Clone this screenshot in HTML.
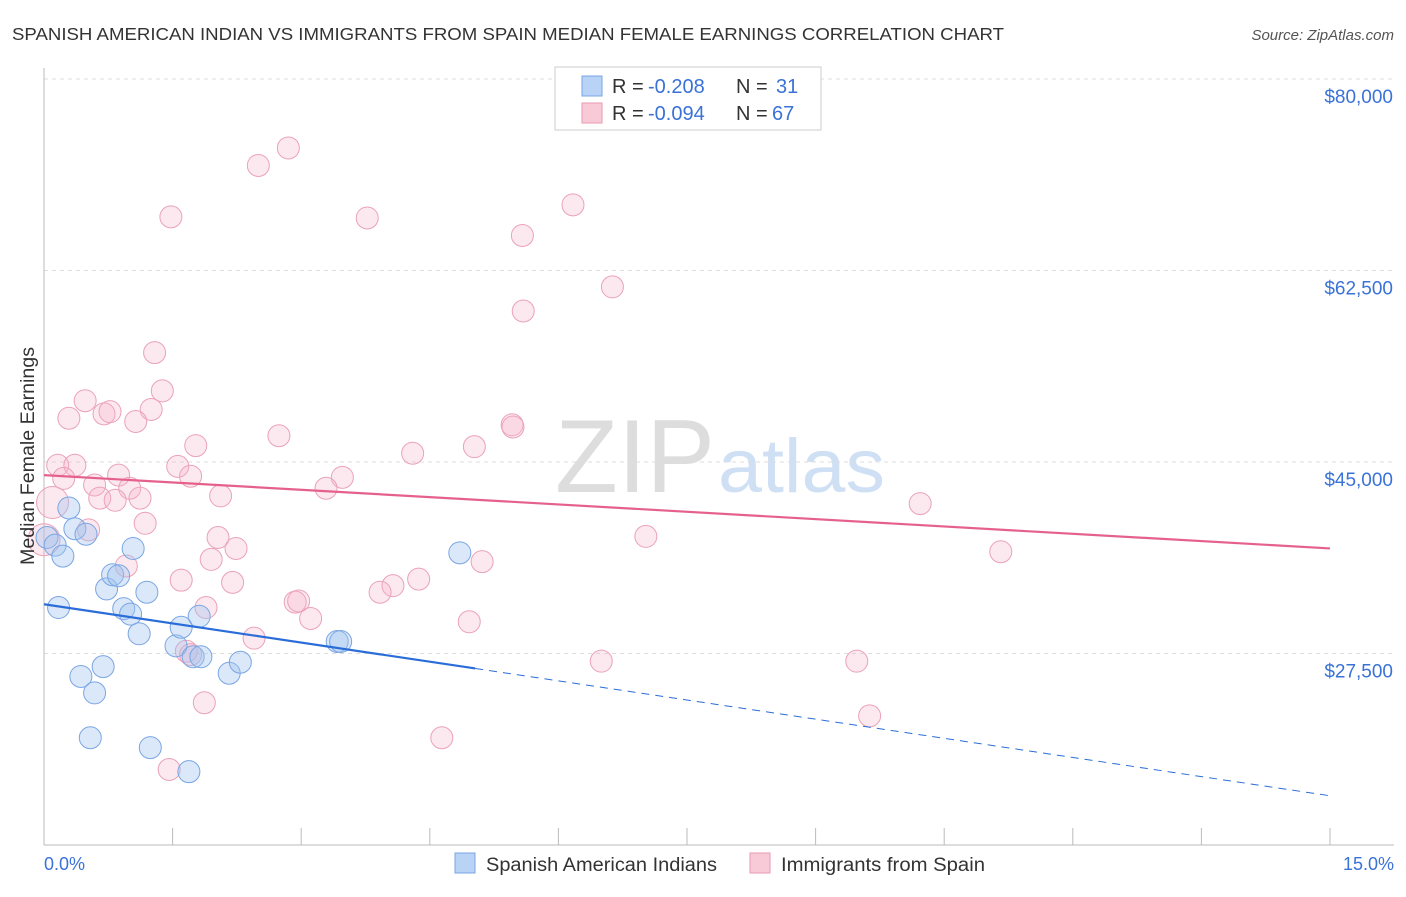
<!DOCTYPE html>
<html><head><meta charset="utf-8"><style>
body{margin:0;background:#fff;font-family:"Liberation Sans",sans-serif;}
svg text{font-family:"Liberation Sans",sans-serif;}
</style></head><body>
<svg id="c" width="1406" height="892">
<text x="12" y="40" font-size="17.5" fill="#333" textLength="992" lengthAdjust="spacingAndGlyphs">SPANISH AMERICAN INDIAN VS IMMIGRANTS FROM SPAIN MEDIAN FEMALE EARNINGS CORRELATION CHART</text>
<text x="1394" y="40" font-size="15" fill="#555" font-style="italic" text-anchor="end">Source: ZipAtlas.com</text>
<text x="555" y="492" font-size="104" fill="#ddd" textLength="160" lengthAdjust="spacingAndGlyphs" font-family="Liberation Serif">ZIP</text>
<text x="718" y="492" font-size="76" fill="#cfe0f5" textLength="167" lengthAdjust="spacingAndGlyphs">atlas</text>
<g id="grid"></g><g id="pts"></g><g id="lines"></g>
<text transform="translate(34,456) rotate(-90)" font-size="19" fill="#333" text-anchor="middle" textLength="218" lengthAdjust="spacingAndGlyphs">Median Female Earnings</text>
<text x="44" y="870" font-size="18" fill="#3a72d8">0.0%</text>
<text x="1394" y="870" font-size="18" fill="#3a72d8" text-anchor="end">15.0%</text>
<g>
<rect x="555" y="67" width="266" height="63" fill="#fff" stroke="#ccc"/>
<rect x="582" y="76" width="20" height="20" fill="#b8d3f5" stroke="#7aa6e3"/>
<rect x="582" y="103" width="20" height="20" fill="#f8c9d7" stroke="#e99ab2"/>
<text x="612" y="93" font-size="20" fill="#333">R =</text><text x="648" y="93" font-size="20" fill="#3a72d8">-0.208</text>
<text x="736" y="93" font-size="20" fill="#333">N =</text><text x="776" y="93" font-size="20" fill="#3a72d8">31</text>
<text x="612" y="120" font-size="20" fill="#333">R =</text><text x="648" y="120" font-size="20" fill="#3a72d8">-0.094</text>
<text x="736" y="120" font-size="20" fill="#333">N =</text><text x="772" y="120" font-size="20" fill="#3a72d8">67</text>
</g>
<g>
<rect x="455" y="853" width="20" height="20" fill="#b8d3f5" stroke="#7aa6e3"/>
<text x="486" y="871" font-size="19" fill="#333" textLength="231" lengthAdjust="spacingAndGlyphs">Spanish American Indians</text>
<rect x="750" y="853" width="20" height="20" fill="#f8c9d7" stroke="#e99ab2"/>
<text x="781" y="871" font-size="19" fill="#333" textLength="204" lengthAdjust="spacingAndGlyphs">Immigrants from Spain</text>
</g>
</svg>
<script>
const yTicks=[27500,45000,62500,80000];
const yTickLabels=["$27,500","$45,000","$62,500","$80,000"];
const xTicks=[0,1.5,3,4.5,6,7.5,9,10.5,12,13.5,15];
const blueX=[0.035,0.13,0.22,0.29,0.36,0.49,0.17,0.43,0.59,0.54,0.69,0.73,0.80,0.87,0.93,1.01,1.04,1.11,1.20,1.24,1.54,1.60,1.69,1.74,1.81,1.83,2.16,2.29,3.42,3.46,4.85];
const blueY=[38.1,37.4,36.4,40.8,38.9,38.4,31.7,25.4,23.9,19.8,26.3,33.4,34.7,34.6,31.6,31.1,37.1,29.3,33.1,18.9,28.2,29.9,16.7,27.2,30.9,27.2,25.7,26.7,28.6,28.6,36.7];
const pinkX=[2.85,2.50,1.48,3.77,6.17,5.58,6.63,5.59,1.29,1.38,0.48,0.29,0.70,0.77,1.25,1.07,5.46,5.47,2.74,1.77,5.02,4.30,0.16,0.36,1.56,0.23,1.71,0.87,3.48,0.59,1.00,3.29,0.65,0.83,1.12,2.06,0.10,10.22,1.18,0.52,2.03,7.02,2.24,11.16,0.0,1.95,5.11,0.96,1.60,2.20,4.37,4.07,3.92,2.93,2.97,1.89,3.11,4.96,2.45,1.66,1.71,6.50,9.48,1.87,9.63,4.64,1.46];
const pinkY=[73.7,72.1,67.4,67.3,68.5,65.7,61.0,58.8,55.0,51.5,50.6,49.0,49.4,49.6,49.8,48.7,48.4,48.2,47.4,46.5,46.4,45.8,44.7,44.7,44.6,43.5,43.7,43.8,43.6,42.9,42.6,42.6,41.7,41.5,41.7,41.9,41.3,41.2,39.4,38.8,38.1,38.2,37.1,36.8,37.9,36.1,35.9,35.5,34.2,34.0,34.3,33.7,33.1,32.2,32.3,31.7,30.7,30.4,28.9,27.7,27.4,26.8,26.8,23.0,21.8,19.8,16.9];
const pinkTrend=[43.8,37.1];
const blueTrend=[32.0,14.5];
const blueSolidEnd=5.03;
const NS="http://www.w3.org/2000/svg";
const X=v=>44+v/15*1286;
const Y=k=>845-(k-10)/70*766;
function mk(t,a,p){const e=document.createElementNS(NS,t);for(const k in a)e.setAttribute(k,a[k]);p.appendChild(e);return e;}
const g=document.getElementById('grid');
yTicks.forEach((t,i)=>{const y=Y(t/1000);
const l=mk('line',{x1:44,x2:1394,y1:y,y2:y,stroke:'#ddd','stroke-dasharray':'4,4'},g);


const tx=mk('text',{x:1393,y:y+24,'font-size':19,fill:'#3a72d8','text-anchor':'end'},g);tx.textContent=yTickLabels[i];

});
const ax=mk('line',{x1:44,x2:1394,y1:845,y2:845,stroke:'#bbb'},g);


const ay=mk('line',{x1:44,x2:44,y1:68,y2:845,stroke:'#bbb'},g);


xTicks.forEach(t=>{const l=mk('line',{x1:X(t),x2:X(t),y1:828,y2:845,stroke:'#bbb'},g);

});
const p=document.getElementById('pts');
pinkX.forEach((v,i)=>{const r=(v<0.12)?16:11;const c=mk('circle',{cx:X(v),cy:Y(pinkY[i]),r:r,fill:'rgba(246,180,202,0.3)',stroke:'#eba2b9','stroke-width':1},p);

});
blueX.forEach((v,i)=>{const c=mk('circle',{cx:X(v),cy:Y(blueY[i]),r:11,fill:'rgba(160,195,240,0.38)',stroke:'#7aa6e3','stroke-width':1},p);

});
const L=document.getElementById('lines');
const pl=mk('line',{x1:X(0),y1:Y(pinkTrend[0]),x2:X(15),y2:Y(pinkTrend[1]),stroke:'#e5618c','stroke-width':2.2},L);


const bm=blueTrend[0]+(blueTrend[1]-blueTrend[0])*blueSolidEnd/15;
const bl=mk('line',{x1:X(0),y1:Y(blueTrend[0]),x2:X(blueSolidEnd),y2:Y(bm),stroke:'#2a6dd9','stroke-width':2.2},L);


const bd=mk('line',{x1:X(blueSolidEnd),y1:Y(bm),x2:X(15),y2:Y(blueTrend[1]),stroke:'#2a6dd9','stroke-width':1,'stroke-dasharray':'8,6'},L);


</script>
</body></html>
